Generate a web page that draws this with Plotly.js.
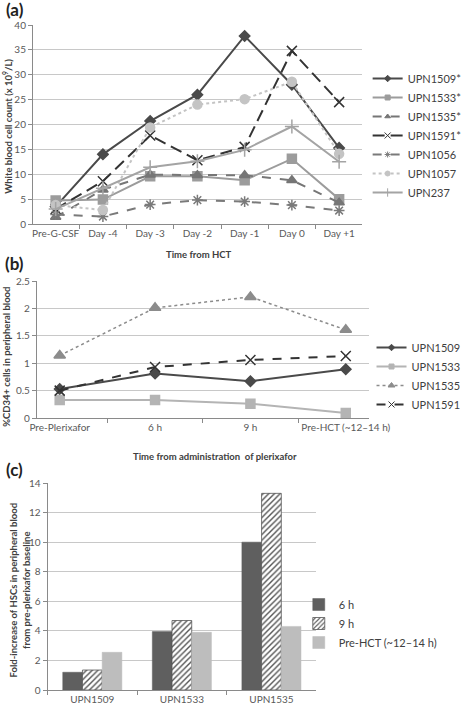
<!DOCTYPE html>
<html><head><meta charset="utf-8">
<script src="https://cdn.plot.ly/plotly-3.0.1.min.js"></script>
<style>body{margin:0;padding:0;background:#fff}#chart{width:467px;height:709px}</style>
</head><body><div id="chart"></div>
<script>
// Panel (a)
const daysA = ["Pre-G-CSF","Day -4","Day -3","Day -2","Day -1","Day 0","Day +1"];
const upn1509a = [3.5, 14.0, 20.7, 26.0, 37.8, 28.0, 15.3];
const upn1533a = [4.7, 4.9, 9.6, 9.6, 8.8, 13.1, 5.0];
const upn1535a = [1.4, 6.9, 9.9, 9.8, 9.8, 8.8, 4.3];
const upn1591a = [3.0, 8.6, 17.8, 12.8, 15.5, 34.8, 24.5];
const upn1056a = [1.9, 1.5, 3.9, 4.8, 4.5, 3.8, 2.7];
const upn1057a = [3.8, 2.8, 19.4, 24.0, 25.1, 28.6, 14.1];
const upn237a  = [3.0, 7.2, 11.4, 12.6, 14.9, 19.6, 12.5];
// Panel (b)
const timesB = ["Pre-Plerixafor","6 h","9 h","Pre-HCT (~12\u201314 h)"];
const upn1509b = [0.53, 0.81, 0.67, 0.89];
const upn1533b = [0.33, 0.33, 0.26, 0.09];
const upn1535b = [1.14, 2.01, 2.21, 1.61];
const upn1591b = [0.50, 0.93, 1.06, 1.13];
// Panel (c)
const patientsC = ["UPN1509","UPN1533","UPN1535"];
const fold6h = [1.2, 3.95, 10.0];
const fold9h = [1.35, 4.7, 13.3];
const foldPreHCT = [2.55, 3.9, 4.3];

const W = 467, H = 709;
const px = v => v / W;
const py = v => 1 - v / H;
const FONT = "Lato, 'Open Sans', sans-serif";
const tickFont = {family: FONT, size: 10, color: "#595959"};
const GRID = "#c8c8c8";

const data = [];
// each series: plotted trace (no legend) + legend entry with small marker (no data drawn)
function addLine(name, x, y, xa, ya, lg, col, dash, sym, msize, lw) {
  const line = {color: col, width: lw || 2, dash: dash};
  data.push({type: "scatter", mode: "lines+markers", name: name, x: x, y: y,
    xaxis: xa, yaxis: ya, showlegend: false, line: line,
    marker: {symbol: sym, size: msize, color: col, line: {color: col, width: 1.5}}});
  data.push({type: "scatter", mode: "lines+markers", name: name, x: [null], y: [null],
    xaxis: xa, yaxis: ya, legend: lg, showlegend: true, line: line,
    marker: {symbol: sym, size: Math.round(msize * 0.6), color: col, line: {color: col, width: 1}}});
}

addLine("UPN1509*", daysA, upn1509a, "x", "y", "legend", "#4a4a4a", "solid", "diamond", 8);
addLine("UPN1533*", daysA, upn1533a, "x", "y", "legend", "#9c9c9c", "solid", "square", 9);
addLine("UPN1535*", daysA, upn1535a, "x", "y", "legend", "#767676", "dash", "triangle-up", 9);
addLine("UPN1591*", daysA, upn1591a, "x", "y", "legend", "#333333", "12px,6px", "x-thin-open", 10);
addLine("UPN1056", daysA, upn1056a, "x", "y", "legend", "#7a7a7a", "dash", "asterisk-open", 9);
addLine("UPN1057", daysA, upn1057a, "x", "y", "legend", "#c4c4c4", "dot", "circle", 9);
addLine("UPN237", daysA, upn237a, "x", "y", "legend", "#a4a4a4", "solid", "cross-thin-open", 10);

addLine("UPN1509", timesB, upn1509b, "x2", "y2", "legend2", "#4a4a4a", "solid", "diamond", 8);
addLine("UPN1533", timesB, upn1533b, "x2", "y2", "legend2", "#b4b4b4", "solid", "square", 9);
addLine("UPN1535", timesB, upn1535b, "x2", "y2", "legend2", "#8c8c8c", "dot", "triangle-up", 10, 1.5);
addLine("UPN1591", timesB, upn1591b, "x2", "y2", "legend2", "#333333", "dash", "x-thin-open", 10);

data.push(
  {type: "bar", name: "6 h", x: patientsC, y: fold6h, xaxis: "x3", yaxis: "y3", legend: "legend3",
   marker: {color: "#5f5f5f", line: {color: "#5f5f5f", width: 0.5}}},
  {type: "bar", name: "9 h", x: patientsC, y: fold9h, xaxis: "x3", yaxis: "y3", legend: "legend3",
   marker: {color: "#ffffff", line: {color: "#555555", width: 0.8},
            pattern: {shape: "/", fgcolor: "#555555", bgcolor: "#ffffff", size: 4, solidity: 0.35}}},
  {type: "bar", name: "Pre-HCT (~12\u201314 h)", x: patientsC, y: foldPreHCT, xaxis: "x3", yaxis: "y3", legend: "legend3",
   marker: {color: "#bdbdbd", line: {color: "#bdbdbd", width: 0.5}}}
);

function xAxis(dom, anchor) {
  return {domain: dom, anchor: anchor, type: "category", showline: true, linecolor: "#8a8a8a",
          linewidth: 1, ticks: "outside", ticklen: 4, tickcolor: "#8a8a8a", tickson: "boundaries",
          showgrid: false, tickfont: tickFont, tickangle: 0, fixedrange: true, zeroline: false};
}
function yAxis(dom, anchor, range, dtick) {
  return {domain: dom, anchor: anchor, range: range, dtick: dtick, showline: true, linecolor: "#8a8a8a",
          linewidth: 1, ticks: "outside", ticklen: 4, tickcolor: "#8a8a8a", showgrid: true,
          gridcolor: GRID, gridwidth: 1, tickfont: tickFont, zeroline: false, fixedrange: true};
}

const titleFont = {family: FONT, size: 9.5, color: "#404040", weight: "bold"};
const legFont = {family: FONT, size: 11, color: "#404040"};

function ann(text, x, y, angle, font) {
  return {text: text, x: px(x), y: py(y), xref: "paper", yref: "paper", xanchor: "center",
          yanchor: "middle", textangle: angle || 0, showarrow: false, font: font || titleFont};
}
const labFont = {family: FONT, size: 17, color: "#222222", weight: "bold"};

const layout = {
  width: W, height: H, autosize: false,
  margin: {l: 0, r: 0, t: 0, b: 0},
  paper_bgcolor: "#ffffff", plot_bgcolor: "#ffffff",
  showlegend: true,
  barmode: "group", bargap: 0.34, bargroupgap: 0,
  xaxis: xAxis([px(34), px(373)], "y"),
  yaxis: yAxis([py(224), py(25)], "x", [0, 40], 5),
  xaxis2: xAxis([px(38), px(380)], "y2"),
  yaxis2: yAxis([py(418), py(281)], "x2", [0, 2.5], 0.5),
  xaxis3: xAxis([px(49), px(326)], "y3"),
  yaxis3: yAxis([py(690), py(483)], "x3", [0, 14], 2),
  legend: {x: px(379), y: py(64), xanchor: "left", yanchor: "top", font: legFont,
           bgcolor: "rgba(0,0,0,0)", itemwidth: 30},
  legend2: {x: px(383), y: py(333), xanchor: "left", yanchor: "top", font: legFont,
            bgcolor: "rgba(0,0,0,0)", itemwidth: 30},
  legend3: {x: px(308), y: py(590), xanchor: "left", yanchor: "top", font: legFont,
            bgcolor: "rgba(0,0,0,0)", itemwidth: 30},
  annotations: [
    ann("(a)", 15, 10, 0, labFont),
    ann("(b)", 15, 263, 0, labFont),
    ann("(c)", 15, 469, 0, labFont),
    ann("White blood cell count (x 10<sup>9</sup>/L)", 8, 126, -90),
    ann("Time from HCT", 205, 254),
    ann("%CD34+ cells in peripheral blood", 6, 357, -90),
    ann("Time from administration  of plerixafor", 222, 456),
    ann("Fold-increase of HSCs in peripheral blood<br>from pre-plerixafor baseline", 20, 590, -90)
  ]
};

Plotly.newPlot("chart", data, layout, {displayModeBar: false, staticPlot: true});
</script>
</body></html>
